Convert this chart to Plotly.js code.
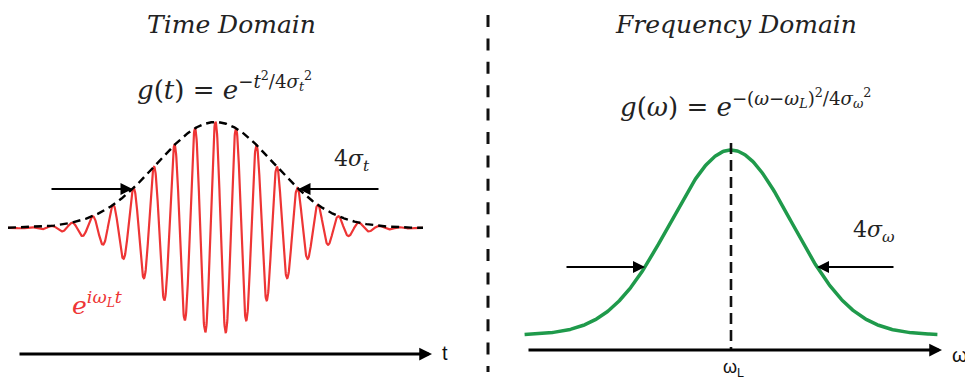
<!DOCTYPE html>
<html>
<head>
<meta charset="utf-8">
<script src="https://cdn.plot.ly/plotly-3.0.1.min.js"></script>
<style>html,body{margin:0;padding:0;background:#fff;}#chart{width:965px;height:380px;}</style>
</head>
<body>
<div id="chart"></div>
<script>
// ---- data ----
const tSpan = [-5, 5];            // time axis extent of the pulse, in units of sigma_t
const sigmaT = [1];               // pulse width parameter
const carrierOmega = [12.7];      // carrier angular frequency (rad per sigma_t)
const wSpan = [-4.8, 4.8];        // frequency extent, in units of sigma_w (centred on omega_L)
const sigmaW = [1];
const markT = [-2, 2];            // 4 sigma_t markers at +-2 sigma
const markW = [-2, 2];            // 4 sigma_w markers
const panelTitles = ["Time Domain", "Frequency Domain"];
const axisLabels = ["t", "ω", "ω<sub>L</sub>"];

// ---- build curves through the formulas the picture plots ----
const N = 1600;
const tX = [], pulseY = [], envY = [];
for (let i = 0; i <= N; i++) {
  const t = tSpan[0] + (tSpan[1] - tSpan[0]) * i / N;
  const env = Math.exp(-t * t / (4 * sigmaT[0] * sigmaT[0]));
  tX.push(t); envY.push(env); pulseY.push(env * Math.cos(carrierOmega[0] * t));
}
const wX = [], specY = [];
for (let i = 0; i <= 400; i++) {
  const w = wSpan[0] + (wSpan[1] - wSpan[0]) * i / 400;
  wX.push(w); specY.push(Math.exp(-w * w / (4 * sigmaW[0] * sigmaW[0])));
}
const gauss = (x, s) => Math.exp(-x * x / (4 * s * s));

// ---- pixel layout helpers ----
const W = 965, H = 380;
const L = {cx: 215.5, kx: 41.5, cy: 228, ky: 106};
const R = {cx: 731, kx: 43, cy: 335, ky: 185};
const tOfPx = p => (p - L.cx) / L.kx, aOfPy = p => (L.cy - p) / L.ky;
const wOfPx = p => (p - R.cx) / R.kx, gOfPy = p => (R.cy - p) / R.ky;
const px = x => x / W, py = y => 1 - y / H;

const traces = [
  {x: tX, y: pulseY, xaxis: 'x', yaxis: 'y', mode: 'lines', line: {color: '#ee3535', width: 2.2}, hoverinfo: 'skip'},
  {x: tX, y: envY, xaxis: 'x', yaxis: 'y', mode: 'lines', line: {color: '#000', width: 2.4, dash: '8px,5px'}, hoverinfo: 'skip'},
  {x: wX, y: specY, xaxis: 'x2', yaxis: 'y2', mode: 'lines', line: {color: '#1f9a4b', width: 3.5}, hoverinfo: 'skip'}
];

const serif = 'DejaVu Serif, Liberation Serif, serif';
const sans = 'Liberation Sans, DejaVu Sans, Arial, sans-serif';

function arrow(xref, yref, xTip, yTip, xTail, yTail, w, size) {
  return {xref: xref, yref: yref, x: xTip, y: yTip, ax: xTail, ay: yTail, axref: xref, ayref: yref,
    text: '', showarrow: true, arrowhead: 2, arrowwidth: w, arrowsize: size, arrowcolor: '#000', standoff: 0, startstandoff: 0};
}
function txt(text, x, y, size, opts) {
  return Object.assign({xref: 'paper', yref: 'paper', x: px(x), y: py(y), text: text, showarrow: false,
    xanchor: 'center', yanchor: 'middle', font: {family: serif, size: size, color: '#222'}}, opts || {});
}

const envAt = gauss(markT[1], sigmaT[0]);
const specAt = gauss(markW[1], sigmaW[0]);

const annotations = [
  arrow('x', 'y', markT[0], envAt, tOfPx(50), envAt, 2, 1.2),
  arrow('x', 'y', markT[1], envAt, tOfPx(380), envAt, 2, 1.2),
  arrow('x', 'y', tOfPx(432), aOfPy(354), tOfPx(18), aOfPy(354), 3, 0.85),
  arrow('x2', 'y2', markW[0], specAt, wOfPx(565), specAt, 2, 1.2),
  arrow('x2', 'y2', markW[1], specAt, wOfPx(895), specAt, 2, 1.2),
  arrow('x2', 'y2', wOfPx(942), gOfPy(350), wOfPx(527), gOfPy(350), 3, 0.85),
  txt('<i>' + panelTitles[0] + '</i>', 231, 25, 25),
  txt('<i>' + panelTitles[1] + '</i>', 736, 25, 25),
  txt('<i>g</i>(<i>t</i>) = <i>e</i><sup>−<i>t</i><sup>2</sup>/4<i>σ</i><sub><i>t</i></sub><sup>2</sup></sup>', 224, 86, 26),
  txt('<i>g</i>(<i>ω</i>) = <i>e</i><sup>−(<i>ω</i>−<i>ω</i><sub><i>L</i></sub>)<sup>2</sup>/4<i>σ</i><sub><i>ω</i></sub><sup>2</sup></sup>', 745, 104, 26),
  txt('4<i>σ</i><sub><i>t</i></sub>', 352, 160, 22),
  txt('4<i>σ</i><sub><i>ω</i></sub>', 874, 231, 22),
  txt('<i>e</i><sup><i>iω</i><sub><i>L</i></sub><i>t</i></sup>', 97, 303, 25, {font: {family: serif, size: 25, color: '#ee3535'}}),
  txt(axisLabels[0], 445, 353, 20, {font: {family: sans, size: 20, color: '#111'}}),
  txt(axisLabels[1], 950, 355, 20, {xanchor: 'left', font: {family: sans, size: 20, color: '#111'}}),
  txt(axisLabels[2], 733, 368, 18, {font: {family: sans, size: 18, color: '#111'}})
];

const shapes = [
  {type: 'line', xref: 'paper', yref: 'paper', x0: px(488), x1: px(488), y0: py(15), y1: py(372),
   line: {color: '#111', width: 3, dash: '12px,11.4px'}},
  {type: 'line', xref: 'x2', yref: 'y2', x0: 0, x1: 0, y0: gOfPy(143), y1: gOfPy(350),
   line: {color: '#111', width: 2.6, dash: '11px,6px'}}
];

const hidden = {visible: false, fixedrange: true};
const layout = {
  width: W, height: H, margin: {l: 0, r: 0, t: 0, b: 0},
  paper_bgcolor: '#fff', plot_bgcolor: 'rgba(0,0,0,0)', showlegend: false,
  xaxis: Object.assign({domain: [0, 0.5], range: [tOfPx(0), tOfPx(482.5)]}, hidden),
  yaxis: Object.assign({domain: [0, 1], range: [aOfPy(380), aOfPy(0)]}, hidden),
  xaxis2: Object.assign({domain: [0.5, 1], range: [wOfPx(482.5), wOfPx(965)], anchor: 'y2'}, hidden),
  yaxis2: Object.assign({domain: [0, 1], range: [gOfPy(380), gOfPy(0)], anchor: 'x2'}, hidden),
  annotations: annotations, shapes: shapes
};
Plotly.newPlot('chart', traces, layout, {staticPlot: true, displayModeBar: false});
</script>
</body>
</html>
